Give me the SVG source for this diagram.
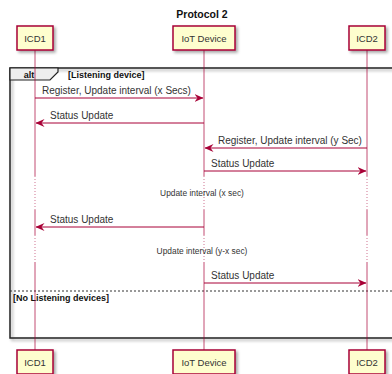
<svg xmlns="http://www.w3.org/2000/svg" width="392" height="374" viewBox="0 0 392 374">
<defs>
<filter id="sh" x="-20%" y="-20%" width="150%" height="150%">
<feDropShadow dx="2" dy="2" stdDeviation="1.5" flood-color="#000" flood-opacity="0.35"/>
</filter>
<marker id="ah" markerWidth="9" markerHeight="8" refX="8.5" refY="4" orient="auto" markerUnits="userSpaceOnUse">
<path d="M0,0 L9,4 L0,8 L3,4 z" fill="#A80036"/>
</marker>
<style>
.part rect{fill:#FEFECE;stroke:#A80036;stroke-width:1.5}
.part text{font-family:"Liberation Sans",Arial,sans-serif;font-size:9.5px;fill:#333;text-anchor:middle}
.life{stroke:#A80036;stroke-width:1;opacity:0.7}
.dot{stroke:#A80036;stroke-width:1;stroke-dasharray:1,2;opacity:0.55}
.msg{stroke:#A80036;stroke-width:1;fill:none;marker-end:url(#ah)}
.lbl{font-family:"Liberation Sans",Arial,sans-serif;font-size:10px;fill:#333}
.small{font-family:"Liberation Sans",Arial,sans-serif;font-size:8.4px;fill:#333;text-anchor:middle}
.bold{font-family:"Liberation Sans",Arial,sans-serif;font-weight:bold;fill:#111}
</style>
</defs>
<rect width="392" height="374" fill="#fff"/>
<text class="bold" x="202" y="18" font-size="10.5" text-anchor="middle">Protocol 2</text>

<g id="alt-frame">
<rect x="10" y="68" width="400" height="270" fill="none" stroke="#222" stroke-width="1.5" filter="url(#sh)"/>
<polygon points="10,68 58,68 58,72 50,80 10,80" fill="#EEEEEE" stroke="#222" stroke-width="1.2"/>
<text class="bold" x="29" y="78" font-size="9" text-anchor="middle">alt</text>
<text class="bold" x="68" y="78" font-size="9">[Listening device]</text>
<line x1="10" y1="291" x2="392" y2="291" stroke="#333" stroke-width="1" stroke-dasharray="2,2"/>
<text class="bold" x="13" y="300.5" font-size="9">[No Listening devices]</text>
</g>

<g id="lifelines">
<line class="life" x1="35" y1="50" x2="35" y2="176"/>
<line class="dot" x1="35" y1="176" x2="35" y2="210"/>
<line class="life" x1="35" y1="210" x2="35" y2="235"/>
<line class="dot" x1="35" y1="235" x2="35" y2="262"/>
<line class="life" x1="35" y1="262" x2="35" y2="350"/>
<line class="life" x1="204" y1="50" x2="204" y2="176"/>
<line class="dot" x1="204" y1="176" x2="204" y2="210"/>
<line class="life" x1="204" y1="210" x2="204" y2="235"/>
<line class="dot" x1="204" y1="235" x2="204" y2="262"/>
<line class="life" x1="204" y1="262" x2="204" y2="350"/>
<line class="life" x1="367" y1="50" x2="367" y2="176"/>
<line class="dot" x1="367" y1="176" x2="367" y2="210"/>
<line class="life" x1="367" y1="210" x2="367" y2="235"/>
<line class="dot" x1="367" y1="235" x2="367" y2="262"/>
<line class="life" x1="367" y1="262" x2="367" y2="350"/>
</g>

<g id="ICD1-top" class="part"><rect x="17" y="26" width="36" height="24" filter="url(#sh)"/><text x="35" y="41.5">ICD1</text></g>
<g id="IoT-top" class="part"><rect x="173" y="26" width="62" height="24" filter="url(#sh)"/><text x="204" y="41.5">IoT Device</text></g>
<g id="ICD2-top" class="part"><rect x="349" y="26" width="36" height="24" filter="url(#sh)"/><text x="367" y="41.5">ICD2</text></g>

<g id="ICD1-bottom" class="part"><rect x="17" y="350" width="36" height="24" filter="url(#sh)"/><text x="35" y="365.5">ICD1</text></g>
<g id="IoT-bottom" class="part"><rect x="173" y="350" width="62" height="24" filter="url(#sh)"/><text x="204" y="365.5">IoT Device</text></g>
<g id="ICD2-bottom" class="part"><rect x="349" y="350" width="36" height="24" filter="url(#sh)"/><text x="367" y="365.5">ICD2</text></g>

<g id="connectors">
<line class="msg" x1="35" y1="98" x2="203" y2="98"/>
<text class="lbl" x="42" y="94">Register, Update interval (x Secs)</text>
<line class="msg" x1="204" y1="123" x2="36" y2="123"/>
<text class="lbl" x="50" y="119">Status Update</text>
<line class="msg" x1="367" y1="148" x2="205" y2="148"/>
<text class="lbl" x="218" y="144">Register, Update interval (y Sec)</text>
<line class="msg" x1="204" y1="171" x2="366" y2="171"/>
<text class="lbl" x="211" y="167">Status Update</text>
<text class="small" x="202" y="196">Update interval (x sec)</text>
<line class="msg" x1="204" y1="227" x2="36" y2="227"/>
<text class="lbl" x="50" y="223">Status Update</text>
<text class="small" x="202" y="254">Update interval (y-x sec)</text>
<line class="msg" x1="204" y1="283" x2="366" y2="283"/>
<text class="lbl" x="211" y="279">Status Update</text>
</g>
</svg>
